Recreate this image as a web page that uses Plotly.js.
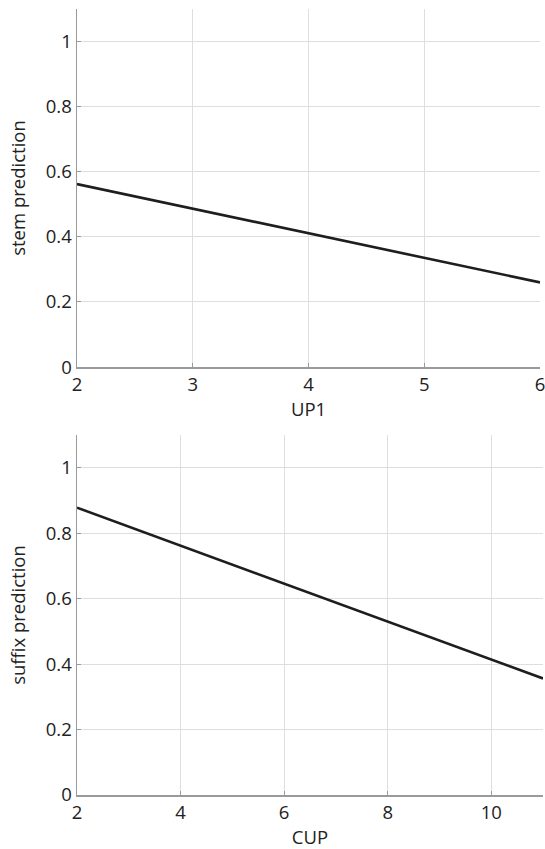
<!DOCTYPE html>
<html>
<head>
<meta charset="utf-8">
<script src="https://cdn.plot.ly/plotly-3.0.1.min.js"></script>
<style>
html,body{margin:0;padding:0;background:#fff;}
#chart{width:545px;height:849px;}
</style>
</head>
<body>
<div id="chart"></div>
<script>
// Top panel: stem prediction vs UP1
const up1 = [2, 3, 4, 5, 6];
const stemPrediction = [0.562, 0.487, 0.411, 0.336, 0.260];
// Bottom panel: suffix prediction vs CUP
const cup = [2, 4, 6, 8, 10, 11];
const suffixPrediction = [0.878, 0.762, 0.646, 0.530, 0.414, 0.356];

const yTickVals = [0, 0.2, 0.4, 0.6, 0.8, 1];
const yTickText = ["0", "0.2", "0.4", "0.6", "0.8", "1"];
const topXTicks = [2, 3, 4, 5, 6];
const botXTicks = [2, 4, 6, 8, 10];

const FONT = "'Open Sans', 'Noto Sans', sans-serif";
const FS = 18.5;
const lineStyle = {color: "#1e1e1e", width: 2.6};

const traces = [
  {x: up1, y: stemPrediction, type: "scatter", mode: "lines", line: lineStyle, xaxis: "x", yaxis: "y", showlegend: false, hoverinfo: "skip"},
  {x: cup, y: suffixPrediction, type: "scatter", mode: "lines", line: lineStyle, xaxis: "x2", yaxis: "y2", showlegend: false, hoverinfo: "skip"}
];

const axisCommon = {
  showline: true, linecolor: "#9a9a9a", linewidth: 1.5,
  showgrid: true, gridcolor: "#dedede", gridwidth: 1,
  zeroline: false,
  ticks: "inside", ticklen: 4, tickcolor: "#9a9a9a", tickwidth: 1,
  tickfont: {family: FONT, size: FS, color: "#222"},
  ticklabeloverflow: "allow",
  fixedrange: true
};

const layout = {
  width: 545, height: 849,
  margin: {l: 77, r: 2, t: 9, b: 54},
  paper_bgcolor: "#fff", plot_bgcolor: "#fff",
  font: {family: FONT, color: "#222"},
  xaxis: Object.assign({}, axisCommon, {
    domain: [0, 0.9936], range: [2, 6], tickvals: topXTicks, anchor: "y",
    title: {text: "UP1", font: {family: FONT, size: FS, color: "#222"}, standoff: 0}
  }),
  yaxis: Object.assign({}, axisCommon, {
    domain: [0.5445, 1], range: [0, 1.1], tickvals: yTickVals, ticktext: yTickText, anchor: "x",
    title: {text: "stem prediction", font: {family: FONT, size: FS, color: "#222"}, standoff: 15}
  }),
  xaxis2: Object.assign({}, axisCommon, {
    domain: [0, 1], range: [2, 11], tickvals: botXTicks, anchor: "y2",
    title: {text: "CUP", font: {family: FONT, size: FS, color: "#222"}, standoff: 9}
  }),
  yaxis2: Object.assign({}, axisCommon, {
    domain: [0, 0.458], range: [0, 1.1], tickvals: yTickVals, ticktext: yTickText, anchor: "x2",
    title: {text: "suffix prediction", font: {family: FONT, size: FS, color: "#222"}, standoff: 15}
  })
};

Plotly.newPlot("chart", traces, layout, {displayModeBar: false, staticPlot: true});
</script>
</body>
</html>
